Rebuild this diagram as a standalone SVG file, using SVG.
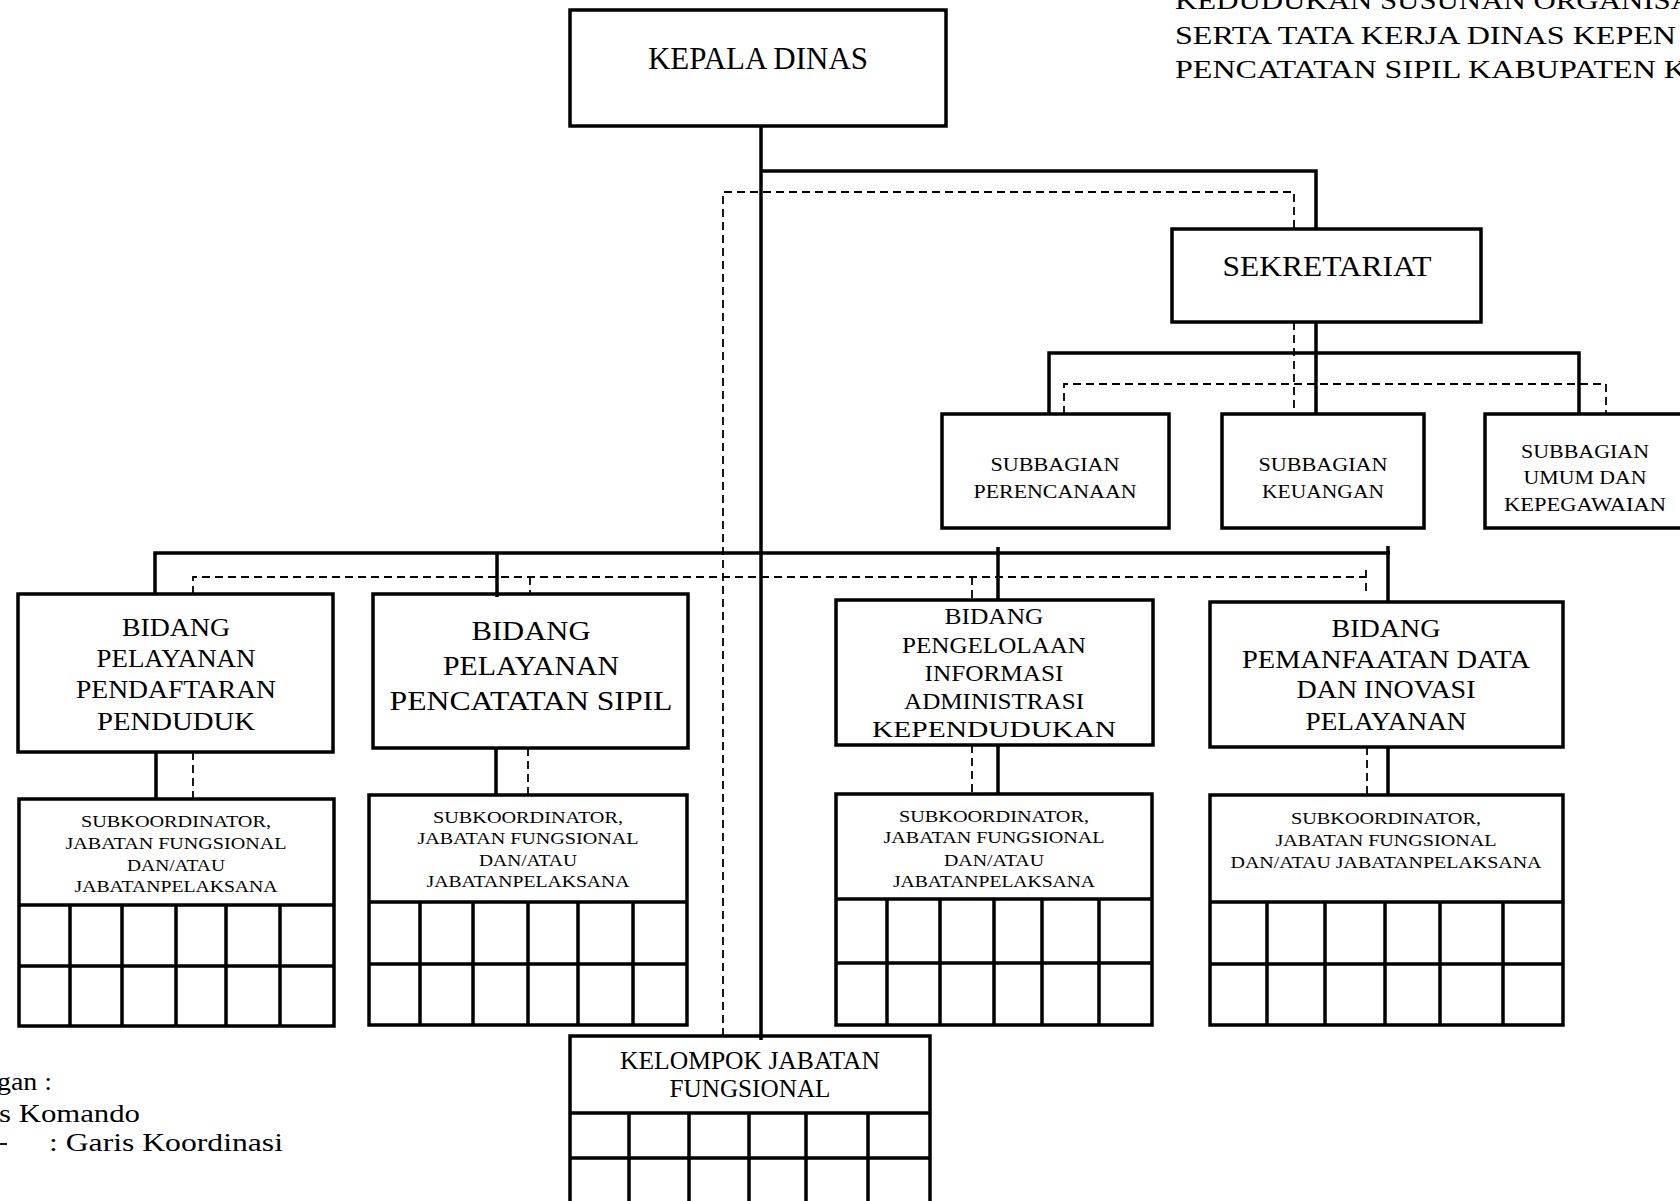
<svg xmlns="http://www.w3.org/2000/svg" width="1680" height="1201" viewBox="0 0 1680 1201">
<style>
.box{fill:#fff;stroke:#000;stroke-width:3.5}
.g{fill:none;stroke:#000;stroke-width:3.5}
.ln{fill:none;stroke:#000;stroke-width:3.5}
.dl{fill:none;stroke:#000;stroke-width:1.8;stroke-dasharray:8 5}
text{font-family:"Liberation Serif","Times New Roman",serif;fill:#000}
.c{text-anchor:middle}
</style>
<rect width="1680" height="1201" fill="#fff"/>

<g id="title">
<text x="1175" y="9" font-size="26" textLength="518" lengthAdjust="spacingAndGlyphs">KEDUDUKAN SUSUNAN ORGANISA</text>
<text x="1175" y="44" font-size="26" textLength="501" lengthAdjust="spacingAndGlyphs">SERTA TATA KERJA DINAS KEPEN</text>
<text x="1175" y="78" font-size="26" textLength="512" lengthAdjust="spacingAndGlyphs">PENCATATAN SIPIL KABUPATEN K</text>
</g>

<g id="kepala-dinas">
<rect class="box" x="570" y="10" width="376" height="116"/>
<text class="c" x="758" y="69" font-size="31" textLength="220" lengthAdjust="spacingAndGlyphs">KEPALA DINAS</text>
</g>

<g id="sekretariat">
<rect class="box" x="1172" y="229" width="309" height="93"/>
<text class="c" x="1327" y="276" font-size="29" textLength="209" lengthAdjust="spacingAndGlyphs">SEKRETARIAT</text>
</g>

<g id="subbagian-perencanaan">
<rect class="box" x="942" y="414" width="227" height="114"/>
<text class="c" x="1055" y="471" font-size="19" textLength="129" lengthAdjust="spacingAndGlyphs">SUBBAGIAN</text>
<text class="c" x="1055" y="498" font-size="19" textLength="163" lengthAdjust="spacingAndGlyphs">PERENCANAAN</text>
</g>

<g id="subbagian-keuangan">
<rect class="box" x="1222" y="414" width="202" height="114"/>
<text class="c" x="1323" y="471" font-size="19" textLength="129" lengthAdjust="spacingAndGlyphs">SUBBAGIAN</text>
<text class="c" x="1323" y="498" font-size="19" textLength="122" lengthAdjust="spacingAndGlyphs">KEUANGAN</text>
</g>

<g id="subbagian-umum">
<rect class="box" x="1485" y="414" width="205" height="114"/>
<text class="c" x="1585" y="458" font-size="19" textLength="128" lengthAdjust="spacingAndGlyphs">SUBBAGIAN</text>
<text class="c" x="1585" y="484" font-size="19" textLength="123" lengthAdjust="spacingAndGlyphs">UMUM DAN</text>
<text class="c" x="1585" y="511" font-size="19" textLength="162" lengthAdjust="spacingAndGlyphs">KEPEGAWAIAN</text>
</g>

<g id="bidang-pendaftaran">
<rect class="box" x="18" y="594" width="315" height="158"/>
<text class="c" x="176" y="636" font-size="26" textLength="108" lengthAdjust="spacingAndGlyphs">BIDANG</text>
<text class="c" x="176" y="667" font-size="26" textLength="159" lengthAdjust="spacingAndGlyphs">PELAYANAN</text>
<text class="c" x="176" y="698" font-size="26" textLength="200" lengthAdjust="spacingAndGlyphs">PENDAFTARAN</text>
<text class="c" x="176" y="730" font-size="26" textLength="158" lengthAdjust="spacingAndGlyphs">PENDUDUK</text>
</g>

<g id="bidang-pencatatan">
<rect class="box" x="373" y="594" width="315" height="154"/>
<text class="c" x="531" y="640" font-size="28" textLength="119" lengthAdjust="spacingAndGlyphs">BIDANG</text>
<text class="c" x="531" y="675" font-size="28" textLength="176" lengthAdjust="spacingAndGlyphs">PELAYANAN</text>
<text class="c" x="531" y="710" font-size="28" textLength="283" lengthAdjust="spacingAndGlyphs">PENCATATAN SIPIL</text>
</g>

<g id="bidang-pengelolaan">
<rect class="box" x="836" y="600" width="317" height="145"/>
<text class="c" x="994" y="624" font-size="23" textLength="99" lengthAdjust="spacingAndGlyphs">BIDANG</text>
<text class="c" x="994" y="653" font-size="23" textLength="184" lengthAdjust="spacingAndGlyphs">PENGELOLAAN</text>
<text class="c" x="994" y="681" font-size="23" textLength="139" lengthAdjust="spacingAndGlyphs">INFORMASI</text>
<text class="c" x="994" y="709" font-size="23" textLength="180" lengthAdjust="spacingAndGlyphs">ADMINISTRASI</text>
<text class="c" x="994" y="737" font-size="23" textLength="244" lengthAdjust="spacingAndGlyphs">KEPENDUDUKAN</text>
</g>

<g id="bidang-pemanfaatan">
<rect class="box" x="1210" y="602" width="353" height="145"/>
<text class="c" x="1386" y="637" font-size="25" textLength="109" lengthAdjust="spacingAndGlyphs">BIDANG</text>
<text class="c" x="1386" y="668" font-size="25" textLength="288" lengthAdjust="spacingAndGlyphs">PEMANFAATAN DATA</text>
<text class="c" x="1386" y="698" font-size="25" textLength="179" lengthAdjust="spacingAndGlyphs">DAN INOVASI</text>
<text class="c" x="1386" y="730" font-size="25" textLength="161" lengthAdjust="spacingAndGlyphs">PELAYANAN</text>
</g>

<g id="sub-pendaftaran">
<rect class="box" x="19" y="799" width="315" height="227"/>
<path class="g" d="M19 905H334M19 966H334M70 905V1026M122 905V1026M176 905V1026M226 905V1026M280 905V1026"/>
<text class="c" x="176" y="827" font-size="17" textLength="190" lengthAdjust="spacingAndGlyphs">SUBKOORDINATOR,</text>
<text class="c" x="176" y="849" font-size="17" textLength="221" lengthAdjust="spacingAndGlyphs">JABATAN FUNGSIONAL</text>
<text class="c" x="176" y="871" font-size="17" textLength="98" lengthAdjust="spacingAndGlyphs">DAN/ATAU</text>
<text class="c" x="176" y="892" font-size="17" textLength="203" lengthAdjust="spacingAndGlyphs">JABATANPELAKSANA</text>
</g>

<g id="sub-pencatatan">
<rect class="box" x="369" y="795" width="318" height="230"/>
<path class="g" d="M369 902H687M369 964H687M420 902V1025M473 902V1025M528 902V1025M578 902V1025M633 902V1025"/>
<text class="c" x="528" y="823" font-size="17" textLength="190" lengthAdjust="spacingAndGlyphs">SUBKOORDINATOR,</text>
<text class="c" x="528" y="844" font-size="17" textLength="221" lengthAdjust="spacingAndGlyphs">JABATAN FUNGSIONAL</text>
<text class="c" x="528" y="866" font-size="17" textLength="98" lengthAdjust="spacingAndGlyphs">DAN/ATAU</text>
<text class="c" x="528" y="887" font-size="17" textLength="203" lengthAdjust="spacingAndGlyphs">JABATANPELAKSANA</text>
</g>

<g id="sub-pengelolaan">
<rect class="box" x="836" y="794" width="316" height="231"/>
<path class="g" d="M836 899H1152M836 963H1152M887 899V1025M940 899V1025M994 899V1025M1042 899V1025M1099 899V1025"/>
<text class="c" x="994" y="822" font-size="17" textLength="190" lengthAdjust="spacingAndGlyphs">SUBKOORDINATOR,</text>
<text class="c" x="994" y="843" font-size="17" textLength="221" lengthAdjust="spacingAndGlyphs">JABATAN FUNGSIONAL</text>
<text class="c" x="994" y="866" font-size="17" textLength="100" lengthAdjust="spacingAndGlyphs">DAN/ATAU</text>
<text class="c" x="994" y="887" font-size="17" textLength="202" lengthAdjust="spacingAndGlyphs">JABATANPELAKSANA</text>
</g>

<g id="sub-pemanfaatan">
<rect class="box" x="1210" y="795" width="353" height="230"/>
<path class="g" d="M1210 902H1563M1210 964H1563M1267 902V1025M1325 902V1025M1385 902V1025M1440 902V1025M1503 902V1025"/>
<text class="c" x="1386" y="824" font-size="17" textLength="190" lengthAdjust="spacingAndGlyphs">SUBKOORDINATOR,</text>
<text class="c" x="1386" y="846" font-size="17" textLength="221" lengthAdjust="spacingAndGlyphs">JABATAN FUNGSIONAL</text>
<text class="c" x="1386" y="868" font-size="17" textLength="311" lengthAdjust="spacingAndGlyphs">DAN/ATAU JABATANPELAKSANA</text>
</g>

<g id="kelompok-jabatan-fungsional">
<rect class="box" x="570" y="1036" width="360" height="200"/>
<path class="g" d="M570 1113H930M570 1158H930M629 1113V1210M689 1113V1210M749 1113V1210M806 1113V1210M868 1113V1210"/>
<text class="c" x="750" y="1069" font-size="25" textLength="260" lengthAdjust="spacingAndGlyphs">KELOMPOK JABATAN</text>
<text class="c" x="750" y="1097" font-size="25" textLength="161" lengthAdjust="spacingAndGlyphs">FUNGSIONAL</text>
</g>

<g id="connectors">
<path class="ln" d="M761 126V1040"/>
<path class="ln" d="M761 171H1316V229"/>
<path class="ln" d="M1316 322V414"/>
<path class="ln" d="M1049 414V353H1579V414"/>
<path class="ln" d="M155 594V553H1390"/>
<path class="ln" d="M497 553V597"/>
<path class="ln" d="M998 547V600"/>
<path class="ln" d="M1388 546V602"/>
<path class="ln" d="M156 752V799"/>
<path class="ln" d="M496 748V795"/>
<path class="ln" d="M998 745V794"/>
<path class="ln" d="M1388 747V795"/>
<path class="dl" d="M723 1036V192H1294V229"/>
<path class="dl" d="M1294 322V414"/>
<path class="dl" d="M1064 414V384H1606V414"/>
<path class="dl" d="M193 594V577H1366"/>
<path class="dl" d="M1366 570V592"/>
<path class="dl" d="M530 577V594"/>
<path class="dl" d="M972 577V600"/>
<path class="dl" d="M193 752V799"/>
<path class="dl" d="M528 748V795"/>
<path class="dl" d="M972 745V794"/>
<path class="dl" d="M1367 747V795"/>
</g>

<g id="legend">
<text x="-3" y="1090" font-size="26" textLength="55" lengthAdjust="spacingAndGlyphs">gan :</text>
<text x="-1" y="1122" font-size="26" textLength="141" lengthAdjust="spacingAndGlyphs">s Komando</text>
<line x1="0" y1="1144" x2="7" y2="1144" stroke="#000" stroke-width="1.8"/>
<text x="49" y="1151" font-size="26" textLength="234" lengthAdjust="spacingAndGlyphs">: Garis Koordinasi</text>
</g>
</svg>
